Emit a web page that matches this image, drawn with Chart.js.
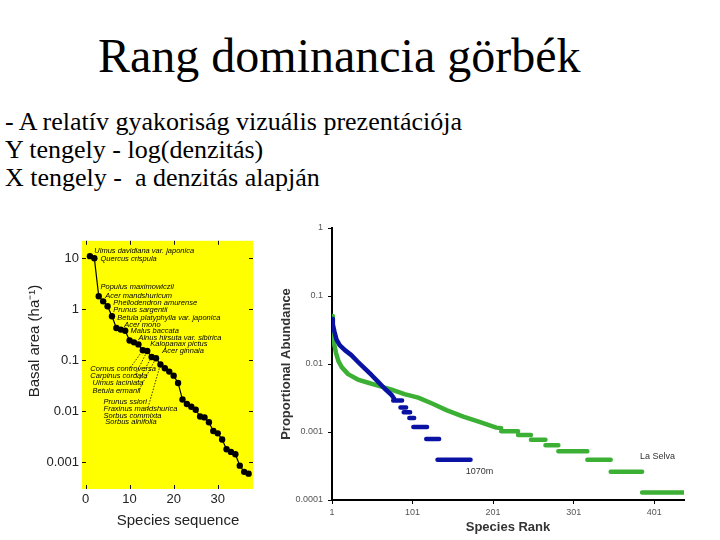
<!DOCTYPE html>
<html>
<head>
<meta charset="utf-8">
<script src="https://cdn.jsdelivr.net/npm/chart.js@4.4.1/dist/chart.umd.min.js"></script>
<style>
    body { margin: 0; width: 720px; height: 540px; background: #fff; position: relative; overflow: hidden; }
    .slide-text { position: absolute; font-family: 'Liberation Serif', 'Times New Roman', serif; color: #000; line-height: 1; white-space: pre; }
    #title { left: 98px; top: 32px; font-size: 48px; }
    .bullet { left: 5px; font-size: 26px; }
    canvas { position: absolute; }
    #leftChart { left: 20px; top: 230px; }
    #rightChart { left: 275px; top: 215px; }
</style>
</head>
<body>
<div id="title" class="slide-text">Rang dominancia görbék</div>
<div class="slide-text bullet" style="top:109px">- A relatív gyakoriság vizuális prezentációja</div>
<div class="slide-text bullet" style="top:137px">Y tengely - log(denzitás)</div>
<div class="slide-text bullet" style="top:165px">X tengely -  a denzitás alapján</div>

<canvas id="leftChart" width="245" height="305"></canvas>
<canvas id="rightChart" width="440" height="325"></canvas>

<script>
// --- DATA ---

// Left panel: basal area of each species, in rank order
const speciesSeq = [1, 2, 3, 4, 5, 6, 7, 8, 9, 10, 11, 12, 13, 14, 15, 16, 17, 18, 19,
    20, 21, 22, 23, 24, 25, 26, 27, 28, 29, 30, 31, 32, 33, 34, 35, 36, 37];
const basalArea = [11, 10, 1.8, 1.43, 1.15, 0.73, 0.43, 0.40, 0.38, 0.245, 0.225, 0.205,
    0.157, 0.152, 0.116, 0.11, 0.083, 0.07, 0.06, 0.05, 0.036, 0.017, 0.0139, 0.0123,
    0.0107, 0.0079, 0.0076, 0.0061, 0.0041, 0.0037, 0.0028, 0.0018, 0.0016, 0.00144,
    0.00086, 0.00065, 0.0006];
const leftXTicks = [0, 10, 20, 30];
const leftYTicks = [0.001, 0.01, 0.1, 1, 10];

// species names written next to the curve (placed in data units)
const speciesNotes = [
    ['Ulmus davidiana var. japonica', 2.0, 14.1],
    ['Quercus crispula', 3.4, 9.9],
    ['Populus maximowiczii', 3.4, 2.7],
    ['Acer mandshuricum', 4.5, 1.8],
    ['Phellodendron amurense', 6.3, 1.31],
    ['Prunus sargentii', 6.3, 0.955],
    ['Betula platyphylla var. japonica', 7.2, 0.675],
    ['Acer mono', 8.8, 0.49],
    ['Malus baccata', 10.2, 0.375],
    ['Alnus hirsuta var. sibirica', 12.0, 0.275],
    ['Kalopanax pictus', 14.7, 0.21],
    ['Acer ginnala', 17.4, 0.153],
    ['Cornus controversa', 1.1, 0.068],
    ['Carpinus cordata', 1.1, 0.05],
    ['Ulmus laciniata', 1.6, 0.036],
    ['Betula ermanii', 1.6, 0.0255],
    ['Prunus ssiori', 4.1, 0.0156],
    ['Fraxinus mandshurica', 4.1, 0.0114],
    ['Sorbus commixta', 4.1, 0.0083],
    ['Sorbus alnifolia', 4.5, 0.0063]
];
// dotted leaders: start point (data units) -> species number
const leaderLines = [
    [10.2, 0.072, 13],
    [11.3, 0.052, 14],
    [11.9, 0.038, 15],
    [12.2, 0.027, 16],
    [14.0, 0.0105, 17]
];

// Right panel: proportional abundance by species rank
const blueRank = [1, 2, 4, 6.5, 10.5, 17, 25, 33, 41.5, 50, 58, 66, 75, 78];
const blueValue = [0.046, 0.038, 0.030, 0.023, 0.019, 0.016, 0.0135, 0.0108, 0.0086,
    0.0069, 0.0055, 0.0044, 0.0035, 0.0031];
const blueStepStart = [77, 86, 90, 97, 102, 118, 132];
const blueStepEnd = [88, 93, 98, 103, 119, 134, 173];
const blueStepValue = [0.0029, 0.0023, 0.00195, 0.0016, 0.00118, 0.00079, 0.00039];

const greenRank = [1, 2, 3, 4, 6, 9, 13, 21, 33, 46, 58, 75, 91, 108, 126, 143, 164, 184, 205, 211];
const greenValue = [0.051, 0.03, 0.022, 0.019, 0.0145, 0.011, 0.009, 0.0071, 0.0059, 0.0053,
    0.0048, 0.0042, 0.0036, 0.0032, 0.0026, 0.0021, 0.00168, 0.00141, 0.00116, 0.00114];
const greenStepStart = [211, 232, 248, 266, 282, 318, 347, 386];
const greenStepEnd = [232, 248, 266, 282, 318, 347, 386, 437];
const greenStepValue = [0.00103, 0.0009, 0.00077, 0.00064, 0.00052, 0.00039, 0.00026, 0.000129];

const rankTicks = [1, 101, 201, 301, 401];
const abundanceTicks = [0.0001, 0.001, 0.01, 0.1, 1];

const siteNotes = [
    ['La Selva', 405, 0.00044],
    ['1070m', 184, 0.00026]
];

// --- HELPERS ---

Chart.defaults.font.family = "'Liberation Sans', Arial, sans-serif";

function fixedTicks(values) {
    return scale => { scale.ticks = values.map(v => ({ value: v })); };
}

function logLabel(v) {
    return String(Number(v.toPrecision(3)));
}

// rank curve first, then each flat run of equal abundance as its own piece
function buildSeries(rank, value, stepStart, stepEnd, stepValue) {
    const pts = rank.map((x, i) => ({ x, y: value[i] }));
    stepValue.forEach((v, i) => {
        pts.push({ x: stepStart[i], y: null });
        pts.push({ x: stepStart[i], y: v });
        pts.push({ x: stepEnd[i], y: v });
    });
    return pts;
}

const plotBackground = {
    id: 'plotBackground',
    beforeDraw(chart, args, opts) {
        const { ctx, chartArea: a } = chart;
        ctx.save();
        ctx.fillStyle = opts.color;
        ctx.fillRect(a.left, a.top, a.width, a.height);
        ctx.restore();
    }
};

// short tick marks pointing into the plot, on all four sides
const innerTicks = {
    id: 'innerTicks',
    afterDatasetsDraw(chart) {
        const { ctx, chartArea: a, scales: { x, y } } = chart;
        ctx.save();
        ctx.strokeStyle = '#111';
        ctx.lineWidth = 1;
        ctx.beginPath();
        y.ticks.forEach(t => {
            const py = Math.round(y.getPixelForValue(t.value)) + 0.5;
            ctx.moveTo(a.left, py); ctx.lineTo(a.left + 4, py);
            ctx.moveTo(a.right, py); ctx.lineTo(a.right - 4, py);
        });
        x.ticks.forEach(t => {
            const px = Math.round(x.getPixelForValue(t.value)) + 0.5;
            ctx.moveTo(px, a.bottom); ctx.lineTo(px, a.bottom - 4);
            ctx.moveTo(px, a.top); ctx.lineTo(px, a.top + 4);
        });
        ctx.stroke();
        ctx.restore();
    }
};

// axis titles of the left panel sit a little off the plot centre, so draw them here
const axisTitles = {
    id: 'axisTitles',
    afterDraw(chart, args, opts) {
        const { ctx } = chart;
        ctx.save();
        ctx.fillStyle = opts.color;
        ctx.font = opts.font;
        ctx.textAlign = 'center';
        ctx.textBaseline = 'middle';
        ctx.fillText(opts.x.text, opts.x.at[0], opts.x.at[1]);
        ctx.translate(opts.y.at[0], opts.y.at[1]);
        ctx.rotate(-Math.PI / 2);
        ctx.fillText(opts.y.text, 0, 0);
        ctx.restore();
    }
};

const textNotes = {
    id: 'textNotes',
    afterDatasetsDraw(chart, args, opts) {
        const { ctx, scales: { x, y } } = chart;
        ctx.save();
        ctx.fillStyle = opts.color;
        ctx.font = opts.font;
        ctx.textAlign = opts.align;
        ctx.textBaseline = 'middle';
        opts.items.forEach(([text, vx, vy]) => {
            ctx.fillText(text, x.getPixelForValue(vx), y.getPixelForValue(vy));
        });
        if (opts.leaders) {
            const pts = chart.getDatasetMeta(0).data;
            ctx.strokeStyle = '#000';
            ctx.lineWidth = 0.8;
            ctx.setLineDash([1.5, 1.5]);
            ctx.beginPath();
            opts.leaders.forEach(([vx, vy, n]) => {
                ctx.moveTo(x.getPixelForValue(vx), y.getPixelForValue(vy));
                ctx.lineTo(pts[n - 1].x, pts[n - 1].y);
            });
            ctx.stroke();
        }
        ctx.restore();
    }
};

// --- LEFT CHART: basal area vs species sequence ---

new Chart(document.getElementById('leftChart'), {
    type: 'line',
    data: {
        datasets: [{
            data: speciesSeq.map((x, i) => ({ x, y: basalArea[i] })),
            borderColor: '#000',
            borderWidth: 1.2,
            pointRadius: 3.2,
            pointBackgroundColor: '#000',
            pointBorderWidth: 0,
            tension: 0
        }]
    },
    options: {
        responsive: false,
        animation: false,
        layout: { padding: { top: 10, right: 12 } },
        plugins: {
            legend: { display: false },
            tooltip: { enabled: false },
            plotBackground: { color: '#ffff00' },
            axisTitles: {
                font: '15px "Liberation Sans", Arial, sans-serif',
                color: '#222',
                x: { text: 'Species sequence', at: [158, 291] },
                y: { text: 'Basal area (ha\u207B\u00B9)', at: [15, 111] }
            },
            textNotes: {
                items: speciesNotes,
                leaders: leaderLines,
                font: 'italic 7.5px "Liberation Sans", Arial, sans-serif',
                color: '#000',
                align: 'left'
            }
        },
        scales: {
            x: {
                type: 'linear',
                min: -0.8,
                max: 38,
                afterBuildTicks: fixedTicks(leftXTicks),
                grid: { display: false, drawTicks: false },
                border: { display: false },
                ticks: { color: '#222', font: { size: 13 }, padding: 3 },
                afterFit: s => { s.height = 46; }
            },
            y: {
                type: 'logarithmic',
                min: 0.0003,
                max: 22,
                afterBuildTicks: fixedTicks(leftYTicks),
                grid: { display: false, drawTicks: false },
                border: { display: false },
                ticks: { color: '#222', font: { size: 13 }, padding: 3, callback: logLabel },
                afterFit: s => { s.width = 62; }
            }
        }
    },
    plugins: [plotBackground, innerTicks, textNotes, axisTitles]
});

// --- RIGHT CHART: proportional abundance vs species rank ---

new Chart(document.getElementById('rightChart'), {
    type: 'line',
    data: {
        datasets: [{
            label: '1070m',
            data: buildSeries(blueRank, blueValue, blueStepStart, blueStepEnd, blueStepValue),
            borderColor: '#0a12a4',
            borderWidth: 4.5,
            borderCapStyle: 'round',
            borderJoinStyle: 'round',
            pointRadius: 0,
            tension: 0
        }, {
            label: 'La Selva',
            data: buildSeries(greenRank, greenValue, greenStepStart, greenStepEnd, greenStepValue),
            borderColor: '#3cb034',
            borderWidth: 4.5,
            borderCapStyle: 'round',
            borderJoinStyle: 'round',
            pointRadius: 0,
            tension: 0
        }]
    },
    options: {
        responsive: false,
        animation: false,
        layout: { padding: { top: 13, right: 31 } },
        plugins: {
            legend: { display: false },
            tooltip: { enabled: false },
            textNotes: {
                items: siteNotes,
                font: '9px "Liberation Sans", Arial, sans-serif',
                color: '#333',
                align: 'center'
            }
        },
        scales: {
            x: {
                type: 'linear',
                min: 1,
                max: 438,
                afterBuildTicks: fixedTicks(rankTicks),
                grid: { display: true, drawOnChartArea: false, tickLength: 4, color: '#000' },
                border: { display: true, color: '#000', width: 2 },
                ticks: { color: '#555', font: { size: 9 }, padding: 3 },
                title: { display: true, text: 'Species Rank', color: '#333', font: { size: 13, weight: 'bold' }, padding: { top: 2, bottom: 5 } },
                afterFit: s => { s.height = 40; }
            },
            y: {
                type: 'logarithmic',
                min: 0.0001,
                max: 1,
                afterBuildTicks: fixedTicks(abundanceTicks),
                grid: { display: true, drawOnChartArea: false, tickLength: 4, color: '#000' },
                border: { display: true, color: '#000', width: 2 },
                ticks: { color: '#555', font: { size: 9 }, padding: 5, callback: logLabel },
                title: { display: true, text: 'Proportional Abundance', color: '#333', font: { size: 13, weight: 'bold' }, padding: { top: 4, bottom: 2 } },
                afterFit: s => { s.width = 57; }
            }
        }
    },
    plugins: [textNotes]
});
</script>
</body>
</html>
